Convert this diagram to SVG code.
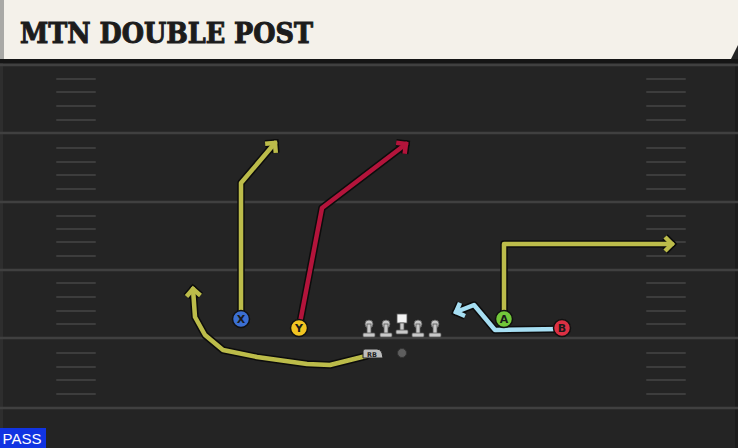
<svg xmlns="http://www.w3.org/2000/svg" width="738" height="448" viewBox="0 0 738 448">
<style>
.yl{stroke:#404040;stroke-width:2.5;fill:none}
.hash{stroke:#3d3d3d;stroke-width:2;stroke-linecap:round}
.out{fill:none;stroke:#0c0c0c;stroke-width:7.5;stroke-linejoin:round;stroke-linecap:round}
.rt{fill:none;stroke-width:4.5;stroke-linejoin:round;stroke-linecap:round}
.olive{stroke:#bcbc4a}
.red{stroke:#b3143b}
.blue{stroke:#a6def2}
.lbl{font-family:"DejaVu Sans",sans-serif;font-weight:bold;font-size:11px;text-anchor:middle;fill:#1a1a1a}
.ol{fill:#c9c9c9;stroke:#555;stroke-width:0.8}
</style>
<defs>
<marker id="mO" markerUnits="userSpaceOnUse" viewBox="-12 -12 24 24" markerWidth="24" markerHeight="24" refX="0" refY="0" orient="auto"><path d="M-7,-7 L0,0 L-7,7" fill="none" stroke="#bcbc4a" stroke-width="4.5"/></marker>
<marker id="mR" markerUnits="userSpaceOnUse" viewBox="-12 -12 24 24" markerWidth="24" markerHeight="24" refX="0" refY="0" orient="auto"><path d="M-7,-7 L0,0 L-7,7" fill="none" stroke="#b3143b" stroke-width="4.5"/></marker>
<marker id="mB" markerUnits="userSpaceOnUse" viewBox="-12 -12 24 24" markerWidth="24" markerHeight="24" refX="0" refY="0" orient="auto"><path d="M-7,-7 L0,0 L-7,7" fill="none" stroke="#a6def2" stroke-width="4.5"/></marker>
<marker id="mD" markerUnits="userSpaceOnUse" viewBox="-12 -12 24 24" markerWidth="24" markerHeight="24" refX="0" refY="0" orient="auto"><path d="M-7,-7 L0,0 L-7,7" fill="none" stroke="#0c0c0c" stroke-width="7.5"/></marker>
</defs>
<rect x="0" y="0" width="738" height="448" fill="#242424"/>
<rect x="0" y="59" width="738" height="4" fill="#151515"/>
<rect x="0" y="63" width="3" height="385" fill="#2e2e2e"/>
<rect x="735" y="63" width="3" height="385" fill="#1c1c1c"/>
<g id="field">
<line class="yl" x1="0" y1="65" x2="738" y2="65"/>
<line class="yl" x1="0" y1="133" x2="738" y2="133"/>
<line class="yl" x1="0" y1="202" x2="738" y2="202"/>
<line class="yl" x1="0" y1="270" x2="738" y2="270"/>
<line class="yl" x1="0" y1="338" x2="738" y2="338"/>
<line class="yl" x1="0" y1="408" x2="738" y2="408"/>
<g id="hashL">
<line class="hash" x1="57" y1="79" x2="95" y2="79"/><line class="hash" x1="57" y1="92" x2="95" y2="92"/><line class="hash" x1="57" y1="106" x2="95" y2="106"/><line class="hash" x1="57" y1="120" x2="95" y2="120"/>
<line class="hash" x1="57" y1="148" x2="95" y2="148"/><line class="hash" x1="57" y1="162" x2="95" y2="162"/><line class="hash" x1="57" y1="175" x2="95" y2="175"/><line class="hash" x1="57" y1="189" x2="95" y2="189"/>
<line class="hash" x1="57" y1="216" x2="95" y2="216"/><line class="hash" x1="57" y1="229" x2="95" y2="229"/><line class="hash" x1="57" y1="242" x2="95" y2="242"/><line class="hash" x1="57" y1="256" x2="95" y2="256"/>
<line class="hash" x1="57" y1="283" x2="95" y2="283"/><line class="hash" x1="57" y1="297" x2="95" y2="297"/><line class="hash" x1="57" y1="311" x2="95" y2="311"/><line class="hash" x1="57" y1="324" x2="95" y2="324"/>
<line class="hash" x1="57" y1="353" x2="95" y2="353"/><line class="hash" x1="57" y1="367" x2="95" y2="367"/><line class="hash" x1="57" y1="380" x2="95" y2="380"/><line class="hash" x1="57" y1="394" x2="95" y2="394"/>
</g>
<use href="#hashL" x="590"/>
</g>
<g id="header">
<rect x="0" y="0" width="738" height="59" fill="#f4f1ea"/>
<rect x="0" y="0" width="4" height="59" fill="#a9a9a6"/>
<polygon points="731,59 738,45 738,59" fill="#242424"/>
<text x="20" y="43" font-family="'DejaVu Serif',serif" font-weight="bold" font-size="27" fill="#1c1c1c" stroke="#1c1c1c" stroke-width="1" textLength="293" lengthAdjust="spacingAndGlyphs">MTN DOUBLE POST</text>
</g>
<g id="connectors">
<polyline class="out" marker-end="url(#mD)" points="241,319 241,183 275,143"/>
<polyline class="rt olive" marker-end="url(#mO)" points="241,319 241,183 275,143"/>
<polyline class="out" marker-end="url(#mD)" points="299,328 322,208 406,144"/>
<polyline class="rt red" marker-end="url(#mR)" points="299,328 322,208 406,144"/>
<polyline class="out" marker-end="url(#mD)" points="504,319 504,244 672,244"/>
<polyline class="rt olive" marker-end="url(#mO)" points="504,319 504,244 672,244"/>
<polyline class="out" marker-end="url(#mD)" points="562,329 495,330 474,305 456,312"/>
<polyline class="rt blue" marker-end="url(#mB)" points="562,329 495,330 474,305 456,312"/>
<polyline class="out" marker-end="url(#mD)" points="366,356 330,365 307,364 257,357 223,350 205,335 195,317 193,289"/>
<polyline class="rt olive" marker-end="url(#mO)" points="366,356 330,365 307,364 257,357 223,350 205,335 195,317 193,289"/>
</g>
<g id="node-X"><circle cx="241" cy="319" r="8.5" fill="#3b6fd2" stroke="#111" stroke-width="1.5"/><text class="lbl" x="241" y="323">X</text></g>
<g id="node-Y"><circle cx="299" cy="328" r="8.5" fill="#f2c522" stroke="#111" stroke-width="1.5"/><text class="lbl" x="299" y="332">Y</text></g>
<g id="node-A"><circle cx="504" cy="319" r="8.5" fill="#72c73a" stroke="#111" stroke-width="1.5"/><text class="lbl" x="504" y="323">A</text></g>
<g id="node-B"><circle cx="562" cy="328" r="8.5" fill="#dc3043" stroke="#111" stroke-width="1.5"/><text class="lbl" x="562" y="332">B</text></g>
<g id="node-OL">
<g class="ol"><circle cx="369" cy="324" r="4"/><rect x="367" y="324" width="4" height="10"/><rect x="363" y="333" width="12" height="4" rx="1"/></g>
<g class="ol"><circle cx="386" cy="324" r="4"/><rect x="384" y="324" width="4" height="10"/><rect x="380" y="333" width="12" height="4" rx="1"/></g>
<g class="ol"><rect x="397" y="314" width="10" height="9" fill="#f4f4f4"/><rect x="400" y="323" width="4" height="8"/><rect x="396" y="330" width="12" height="4" rx="1"/></g>
<g class="ol"><circle cx="418" cy="324" r="4"/><rect x="416" y="324" width="4" height="10"/><rect x="412" y="333" width="12" height="4" rx="1"/></g>
<g class="ol"><circle cx="435" cy="324" r="4"/><rect x="433" y="324" width="4" height="10"/><rect x="429" y="333" width="12" height="4" rx="1"/></g>
</g>
<g id="node-ball"><circle cx="402" cy="353" r="4.5" fill="#5e5e5e" stroke="#333" stroke-width="1"/></g>
<g id="node-RB"><path d="M365,349 L377,349 Q381,349 382,353 L383,358 L363,358 L363,351 Q363,349 365,349 Z" fill="#bdbdbd" stroke="#222" stroke-width="1"/><text x="372" y="356.5" font-family="'DejaVu Sans',sans-serif" font-size="6.5" font-weight="bold" text-anchor="middle" fill="#222">RB</text></g>
<g id="pass"><rect x="0" y="428" width="46" height="20" fill="#1134e2"/><text x="22" y="444" font-family="'Liberation Sans',sans-serif" font-size="15" text-anchor="middle" fill="#ffffff">PASS</text></g>
</svg>
